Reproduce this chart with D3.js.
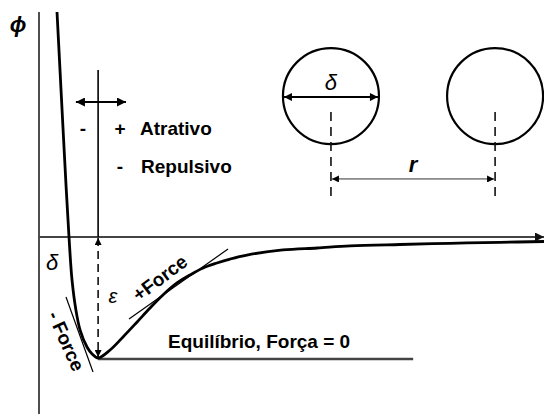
<!DOCTYPE html>
<html>
<head>
<meta charset="utf-8">
<script src="https://cdn.jsdelivr.net/npm/d3@7"></script>
<style>
  body { margin: 0; background: #fff; }
  text { font-family: "Liberation Sans", Arial, sans-serif; fill: #000; }
</style>
</head>
<body>
<svg id="chart" width="544" height="414"></svg>
<script>
// Interaction potential φ(r); φ = 0 at the axis, well depth ε = 1
const rValues   = [0.60, 0.70, 0.80, 0.90, 1.00, 1.10, 1.23, 1.37, 1.60, 1.77, 1.97, 2.37, 2.80, 3.27, 3.70, 4.13, 4.60, 5.03, 5.47, 5.93, 6.37, 6.93, 8.13, 9.27, 10.37, 12.03, 13.70, 15.37, 16.83];
const phiValues = [1.86, 1.38, 0.90, 0.43, 0.00, -0.355, -0.603, -0.769, -0.909, -0.967, -1.000, -0.934, -0.826, -0.702, -0.587, -0.479, -0.380, -0.314, -0.256, -0.215, -0.182, -0.149, -0.107, -0.091, -0.074, -0.062, -0.052, -0.044, -0.037];

// Key values of the well
const rEquilibrium = 1.97;      // position of the minimum
const wellDepth = -1.0;         // φ at the minimum (−ε)
const equilibriumLineEnd = 12.47;

// Tangent segments (r, φ) showing the force sign on each side of the well
const tangentRepulsive = [[0.90, -0.496], [1.80, -1.116]];
const tangentAttractive = [[3.00, -0.678], [6.30, -0.099]];

// Range of the small left/right arrow above the well
const forceArrowPhi = 1.116;
const forceArrowR = [1.23, 2.90];

// Two-particle sketch: centres (r, φ) and separation
const particleCenters = [[9.73, 1.165], [15.20, 1.165]];
const particleCaptionPhi = 0.48;

const labels = {
  phi: "ϕ", delta: "δ", eps: "ε", r: "r",
  attractive: "Atrativo", repulsive: "Repulsivo",
  equilibrium: "Equilíbrio, Força = 0",
  plusForce: "+Force", minusForce: "- Force"
};

const W = 544, H = 414;
const svg = d3.select("#chart");

const x = d3.scaleLinear().domain([0, 16.83]).range([39, 544]);
const y = d3.scaleLinear().domain([-1.463, 1.86]).range([414, 12]);

// Arrowhead markers
const defs = svg.append("defs");
function marker(id, w, h, color) {
  defs.append("marker")
    .attr("id", id)
    .attr("viewBox", "0 0 10 10")
    .attr("refX", 10).attr("refY", 5)
    .attr("markerUnits", "userSpaceOnUse")
    .attr("markerWidth", w).attr("markerHeight", h)
    .attr("orient", "auto-start-reverse")
    .append("path").attr("d", "M0,0L10,5L0,10z").attr("fill", color);
}
marker("headBig", 12, 9, "#000");
marker("headMid", 10, 8, "#000");
marker("headSmall", 8, 7, "#000");
marker("headAxis", 12, 9, "#111");

// Axes
svg.append("line")
  .attr("x1", x(0)).attr("x2", x(0))
  .attr("y1", 12).attr("y2", H)
  .attr("stroke", "#222").attr("stroke-width", 1.6);

svg.append("line")
  .attr("x1", x(0)).attr("x2", W)
  .attr("y1", y(0)).attr("y2", y(0))
  .attr("stroke", "#444").attr("stroke-width", 2.2)
  .attr("marker-end", "url(#headAxis)");

// Equilibrium level
svg.append("line")
  .attr("x1", x(rEquilibrium)).attr("x2", x(equilibriumLineEnd))
  .attr("y1", y(wellDepth) + 1).attr("y2", y(wellDepth) + 1)
  .attr("stroke", "#444").attr("stroke-width", 2.4);

// Vertical marker through the minimum: solid above the axis, dashed ε below
svg.append("line")
  .attr("x1", x(rEquilibrium)).attr("x2", x(rEquilibrium))
  .attr("y1", y(1.38)).attr("y2", y(0))
  .attr("stroke", "#000").attr("stroke-width", 1.6);

svg.append("line")
  .attr("x1", x(rEquilibrium)).attr("x2", x(rEquilibrium))
  .attr("y1", y(0) + 1).attr("y2", y(wellDepth) - 1)
  .attr("stroke", "#000").attr("stroke-width", 1.5)
  .attr("stroke-dasharray", "8,5")
  .attr("marker-start", "url(#headSmall)")
  .attr("marker-end", "url(#headSmall)");

// Left/right arrow above the well
svg.append("line")
  .attr("x1", x(forceArrowR[0])).attr("x2", x(forceArrowR[1]))
  .attr("y1", y(forceArrowPhi)).attr("y2", y(forceArrowPhi))
  .attr("stroke", "#000").attr("stroke-width", 2)
  .attr("marker-start", "url(#headBig)")
  .attr("marker-end", "url(#headBig)");

// Tangents
[tangentRepulsive, tangentAttractive].forEach(seg => {
  svg.append("line")
    .attr("x1", x(seg[0][0])).attr("y1", y(seg[0][1]))
    .attr("x2", x(seg[1][0])).attr("y2", y(seg[1][1]))
    .attr("stroke", "#000").attr("stroke-width", 1.2);
});

// Potential curve
const pts = rValues.map((r, i) => [r, phiValues[i]]);
svg.append("path")
  .datum(pts)
  .attr("fill", "none")
  .attr("stroke", "#000")
  .attr("stroke-width", 2.8)
  .attr("stroke-linejoin", "round")
  .attr("d", d3.line().x(d => x(d[0])).y(d => y(d[1])).curve(d3.curveCatmullRom.alpha(0.5)));

// Two-particle sketch
const radius = 48;
particleCenters.forEach(c => {
  svg.append("circle")
    .attr("cx", x(c[0])).attr("cy", y(c[1])).attr("r", radius)
    .attr("fill", "none").attr("stroke", "#000").attr("stroke-width", 2.2);
  svg.append("line")
    .attr("x1", x(c[0])).attr("x2", x(c[0]))
    .attr("y1", y(c[1]) + 16).attr("y2", y(c[1]) + 100)
    .attr("stroke", "#111").attr("stroke-width", 1.6)
    .attr("stroke-dasharray", "9,6");
});
const c0 = particleCenters[0], c1 = particleCenters[1];
svg.append("line")
  .attr("x1", x(c0[0]) - radius + 1).attr("x2", x(c0[0]) + radius - 1)
  .attr("y1", y(c0[1]) + 1).attr("y2", y(c0[1]) + 1)
  .attr("stroke", "#000").attr("stroke-width", 2)
  .attr("marker-start", "url(#headMid)")
  .attr("marker-end", "url(#headMid)");
svg.append("line")
  .attr("x1", x(c0[0]) + 1).attr("x2", x(c1[0]) - 1)
  .attr("y1", y(particleCaptionPhi)).attr("y2", y(particleCaptionPhi))
  .attr("stroke", "#333").attr("stroke-width", 1)
  .attr("marker-start", "url(#headSmall)")
  .attr("marker-end", "url(#headSmall)");

svg.append("text")
  .attr("x", x(c0[0])).attr("y", y(c0[1]) - 14)
  .attr("text-anchor", "middle").attr("dominant-baseline", "central")
  .style("font-style", "italic").style("font-size", "22px")
  .text(labels.delta);
svg.append("text")
  .attr("x", (x(c0[0]) + x(c1[0])) / 2).attr("y", y(particleCaptionPhi) - 14)
  .attr("text-anchor", "middle").attr("dominant-baseline", "central")
  .style("font-style", "italic").style("font-weight", "bold").style("font-size", "22px")
  .text(labels.r);

// Axis and curve labels
svg.append("text")
  .attr("x", 18).attr("y", 24)
  .attr("text-anchor", "middle").attr("dominant-baseline", "central")
  .style("font-style", "italic").style("font-weight", "bold").style("font-size", "22px")
  .text(labels.phi);

svg.append("text")
  .attr("x", 52).attr("y", 262)
  .attr("text-anchor", "middle").attr("dominant-baseline", "central")
  .style("font-style", "italic").style("font-size", "22px")
  .text(labels.delta);

svg.append("text")
  .attr("x", 113).attr("y", 296)
  .attr("text-anchor", "middle").attr("dominant-baseline", "central")
  .style("font-style", "italic").style("font-size", "20px")
  .text(labels.eps);

const bold = sel => sel.style("font-weight", "bold").style("font-size", "19px");

bold(svg.append("text").attr("x", 83).attr("y", 135).attr("text-anchor", "middle").text("-"));
bold(svg.append("text").attr("x", 120).attr("y", 135).attr("text-anchor", "middle").text("+"));
bold(svg.append("text").attr("x", 140).attr("y", 135).text(labels.attractive));
bold(svg.append("text").attr("x", 120).attr("y", 173).attr("text-anchor", "middle").text("-"));
bold(svg.append("text").attr("x", 141).attr("y", 173).text(labels.repulsive));
bold(svg.append("text").attr("x", 168).attr("y", 348).style("font-size", "19.5px").text(labels.equilibrium));

bold(svg.append("text")
  .attr("transform", "translate(160,278) rotate(-37)")
  .attr("text-anchor", "middle").attr("dominant-baseline", "central")
  .text(labels.plusForce));
bold(svg.append("text")
  .attr("transform", "translate(66,341) rotate(66)")
  .attr("text-anchor", "middle").attr("dominant-baseline", "central")
  .text(labels.minusForce));
</script>
</body>
</html>
